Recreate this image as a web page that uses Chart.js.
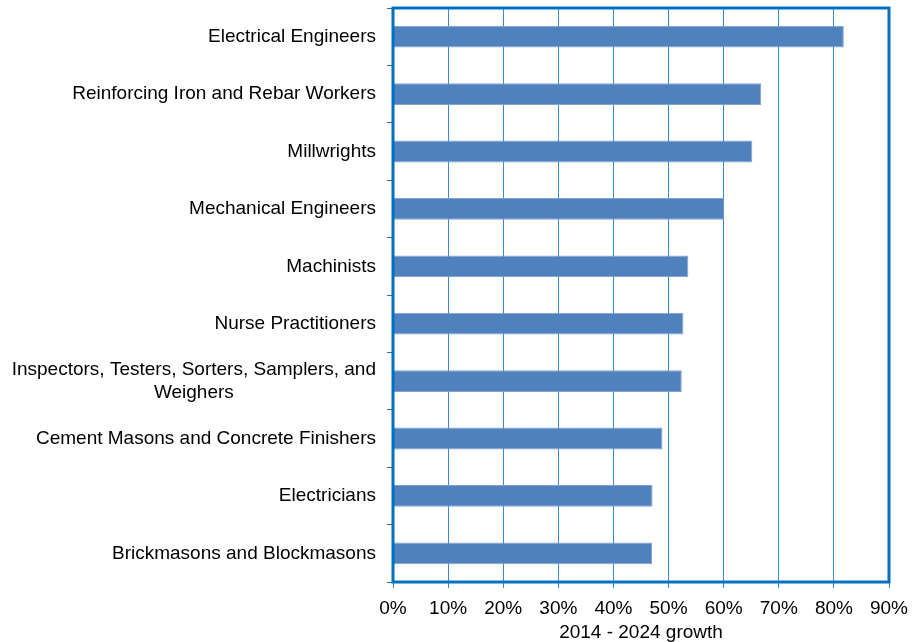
<!DOCTYPE html>
<html>
<head>
<meta charset="utf-8">
<script src="https://cdn.jsdelivr.net/npm/chart.js@4/dist/chart.umd.min.js"></script>
<style>
  body { margin: 0; background: #fff; }
  #wrap { width: 912px; height: 642px; }
</style>
</head>
<body>
<div id="wrap"><canvas id="chart"></canvas></div>
<script>
// Occupations and projected growth (percent)
const occupations = [
    'Electrical Engineers',
    'Reinforcing Iron and Rebar Workers',
    'Millwrights',
    'Mechanical Engineers',
    'Machinists',
    'Nurse Practitioners',
    ['Inspectors, Testers, Sorters, Samplers, and', 'Weighers'],
    'Cement Masons and Concrete Finishers',
    'Electricians',
    'Brickmasons and Blockmasons'
];
const growth = [81.8, 66.8, 65.2, 60.1, 53.6, 52.7, 52.4, 48.9, 47.1, 47.0];
const xTicks = [0, 10, 20, 30, 40, 50, 60, 70, 80, 90];

const blue = '#0070c0';
const labelFont = "'Liberation Sans', Arial, sans-serif";

Chart.defaults.font.family = labelFont;
Chart.defaults.font.size = 19;
Chart.defaults.color = '#000';

// labels drawn as a right-aligned block, lines centred inside it
const categoryLabels = {
    id: 'categoryLabels',
    afterDraw(chart) {
        const ctx = chart.ctx;
        const y = chart.scales.y;
        const right = chart.chartArea.left - 17;
        const lh = 23;
        ctx.save();
        ctx.font = '19px ' + labelFont;
        ctx.fillStyle = '#000';
        ctx.textAlign = 'center';
        ctx.textBaseline = 'middle';
        occupations.forEach((lab, i) => {
            const lines = Array.isArray(lab) ? lab : [lab];
            const w = Math.max(...lines.map(l => ctx.measureText(l).width));
            const cx = right - w / 2;
            const cy = y.getPixelForValue(i);
            lines.forEach((l, k) => {
                ctx.fillText(l, cx, cy + (k - (lines.length - 1) / 2) * lh);
            });
        });
        ctx.restore();
    }
};

// thick blue frame round the plot area
const plotFrame = {
    id: 'plotFrame',
    afterDatasetsDraw(chart) {
        const { left, top, right, bottom } = chart.chartArea;
        const ctx = chart.ctx;
        ctx.save();
        ctx.strokeStyle = blue;
        ctx.lineWidth = 3;
        ctx.strokeRect(left, top, right - left, bottom - top);
        ctx.restore();
    }
};

new Chart(document.getElementById('chart'), {
    type: 'bar',
    data: {
        labels: occupations,
        datasets: [{
            data: growth,
            backgroundColor: '#4f81bd',
            borderColor: '#7fa3d0',
            borderWidth: 1,
            barPercentage: 0.38,
            categoryPercentage: 1
        }]
    },
    options: {
        indexAxis: 'y',
        responsive: true,
        maintainAspectRatio: false,
        animation: false,
        layout: { padding: { top: 8, right: 23, bottom: 0, left: 0 } },
        plugins: {
            legend: { display: false },
            tooltip: { enabled: false }
        },
        scales: {
            x: {
                min: 0,
                max: 90,
                afterBuildTicks: axis => { axis.ticks = xTicks.map(v => ({ value: v })); },
                afterFit: axis => {
                    axis.height = 60;
                    axis.paddingLeft = 0;
                    axis.paddingRight = 0;
                },
                ticks: {
                    callback: v => v + '%',
                    color: '#000',
                    padding: 9,
                    maxRotation: 0
                },
                grid: { color: '#3a8ad0', lineWidth: 1, tickLength: 6 },
                border: { display: false },
                title: {
                    display: true,
                    text: '2014 - 2024 growth',
                    color: '#000',
                    font: { size: 19, lineHeight: 1 },
                    padding: { top: 0, bottom: 0 }
                }
            },
            y: {
                afterFit: axis => { axis.width = 393; },
                ticks: { display: false },
                grid: { drawOnChartArea: false, color: '#2f6db0', tickLength: 6 },
                border: { display: false }
            }
        }
    },
    plugins: [categoryLabels, plotFrame]
});
</script>
</body>
</html>
